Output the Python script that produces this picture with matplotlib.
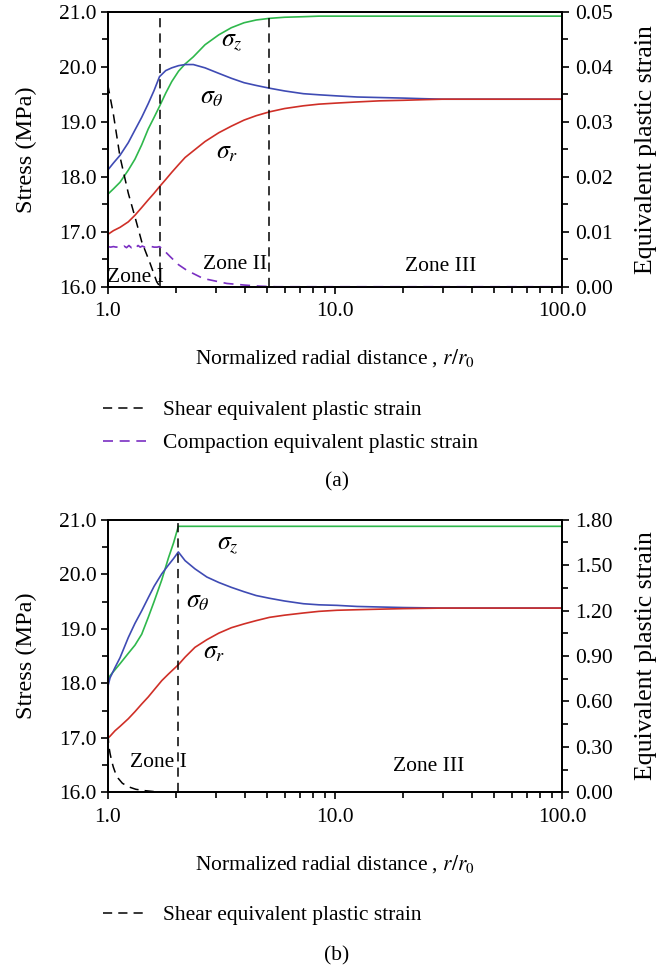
import matplotlib
matplotlib.use('Agg')
import matplotlib.pyplot as plt
from matplotlib.ticker import FixedLocator, MultipleLocator, FormatStrFormatter, NullFormatter, LogLocator

plt.rcParams['font.family'] = ['Liberation Serif', 'DejaVu Serif']
plt.rcParams['mathtext.fontset'] = 'stix'

# ---- panel (a) data ----
r_a = [1.0, 1.06, 1.133, 1.232, 1.318, 1.411, 1.508, 1.6, 1.69, 1.8, 1.913, 2.05, 2.19, 2.38,
       2.68, 3.08, 3.5, 3.98, 4.5, 5.15, 6.0, 7.26, 8.5, 10.2, 12.5, 15.7, 20, 24, 30, 40, 60, 100]
sig_theta_a = [18.12, 18.25, 18.39, 18.62, 18.85, 19.08, 19.33, 19.57, 19.82, 19.93, 19.98, 20.02, 20.04, 20.04,
               19.98, 19.88, 19.79, 19.71, 19.66, 19.61, 19.56, 19.51, 19.49, 19.47, 19.45, 19.44, 19.43, 19.42,
               19.41, 19.41, 19.41, 19.41]
sig_z_a = [17.68, 17.78, 17.90, 18.12, 18.32, 18.58, 18.87, 19.08, 19.28, 19.52, 19.73, 19.92, 20.05, 20.18,
           20.40, 20.58, 20.71, 20.80, 20.85, 20.88, 20.90, 20.91, 20.92, 20.92, 20.92, 20.92, 20.92, 20.92,
           20.92, 20.92, 20.92, 20.92]
sig_r_a = [16.95, 17.02, 17.08, 17.18, 17.30, 17.44, 17.58, 17.70, 17.82, 17.95, 18.08, 18.22, 18.35, 18.47,
           18.64, 18.80, 18.92, 19.03, 19.11, 19.18, 19.24, 19.29, 19.32, 19.34, 19.36, 19.38, 19.39, 19.40,
           19.41, 19.41, 19.41, 19.41]

r_shear_a = [1.0, 1.058, 1.133, 1.232, 1.318, 1.411, 1.535, 1.643, 1.70]
shear_a = [0.0368, 0.0315, 0.0236, 0.0170, 0.0127, 0.0082, 0.0043, 0.0009, 0.0]

r_comp_a = [1.0, 1.03, 1.06, 1.09, 1.12, 1.15, 1.18, 1.21, 1.24, 1.27, 1.30, 1.33, 1.36, 1.39, 1.42,
            1.45, 1.48, 1.52, 1.56, 1.60, 1.65, 1.69, 1.75, 1.88, 2.05, 2.226, 2.63, 3.34, 4.0, 4.67, 5.5, 100]
comp_a = [0.0073, 0.0072, 0.0073, 0.0072, 0.0073, 0.0072, 0.0074, 0.0071, 0.0075, 0.0071, 0.0074, 0.0071,
          0.0075, 0.0072, 0.0074, 0.0072, 0.0073, 0.0072, 0.0073, 0.0072, 0.0072, 0.0073, 0.0068, 0.0055,
          0.0040, 0.0030, 0.0015, 0.0006, 0.0003, 0.0001, 0.0, 0.0]

zones_a = [1.69, 5.15]

# ---- panel (b) data ----
r_b = [1.0, 1.024, 1.077, 1.133, 1.232, 1.318, 1.411, 1.508, 1.6, 1.73, 1.85, 1.95, 2.045, 2.19, 2.42,
       2.73, 3.08, 3.5, 3.98, 4.5, 5.15, 6.0, 7.26, 8.5, 10.2, 12.5, 15.7, 20, 30, 50, 100]
sig_theta_b = [17.93, 18.10, 18.29, 18.47, 18.84, 19.10, 19.33, 19.57, 19.78, 20.01, 20.17, 20.29, 20.41,
               20.25, 20.10, 19.95, 19.85, 19.76, 19.68, 19.61, 19.56, 19.51, 19.46, 19.44, 19.43, 19.41,
               19.40, 19.39, 19.38, 19.38, 19.38]
sig_z_b = [18.02, 18.14, 18.25, 18.36, 18.55, 18.70, 18.90, 19.21, 19.50, 19.90, 20.30, 20.58, 20.88,
           20.88, 20.88, 20.88, 20.88, 20.88, 20.88, 20.88, 20.88, 20.88, 20.88, 20.88, 20.88, 20.88,
           20.88, 20.88, 20.88, 20.88, 20.88]
sig_r_b = [16.99, 17.03, 17.13, 17.21, 17.35, 17.48, 17.62, 17.75, 17.88, 18.05, 18.17, 18.26, 18.34,
           18.48, 18.66, 18.80, 18.92, 19.02, 19.09, 19.15, 19.21, 19.25, 19.29, 19.32, 19.34, 19.35,
           19.36, 19.37, 19.38, 19.38, 19.38]

r_shear_b = [1.0, 1.002, 1.01, 1.024, 1.04, 1.058, 1.08, 1.113, 1.16, 1.232, 1.33, 1.459, 1.6, 1.8, 2.045]
shear_b = [1.80, 0.40, 0.31, 0.257, 0.21, 0.168, 0.13, 0.092, 0.06, 0.037, 0.02, 0.011, 0.005, 0.002, 0.0]

zones_b = [2.045]

GREEN = '#2fb84c'
BLUE = '#3f4bb4'
RED = '#cf2f27'
PURPLE = '#7a2fc2'
FS = 15.5
FS_L = 17.5
FS_R = 18.5

fig = plt.figure(figsize=(6.62, 9.71), dpi=100)


def setup(ax, ymax2, step2):
    ax.set_xscale('log')
    ax.set_xlim(1, 100)
    ax.set_ylim(16, 21)
    ax.xaxis.set_major_locator(FixedLocator([1, 10, 100]))
    ax.set_xticklabels(['1.0', '10.0', '100.0'])
    ax.xaxis.set_minor_locator(LogLocator(base=10, subs=range(2, 10)))
    ax.xaxis.set_minor_formatter(NullFormatter())
    ax.yaxis.set_major_locator(MultipleLocator(1.0))
    ax.yaxis.set_minor_locator(MultipleLocator(0.5))
    ax.yaxis.set_major_formatter(FormatStrFormatter('%.1f'))
    ax.tick_params(which='both', direction='out', labelsize=FS, width=1.2, top=False, right=False)
    ax.tick_params(which='major', length=5)
    ax.tick_params(which='minor', length=4)
    ax.tick_params(axis='x', pad=6)
    ax.tick_params(axis='y', pad=3)
    ax.set_ylabel('Stress (MPa)', fontsize=FS_L, labelpad=16)
    ax.set_xlabel('Normalized radial distance , $r/r_0$', fontsize=FS, labelpad=19)
    for s in ax.spines.values():
        s.set_linewidth(1.3)
    tw = ax.twinx()
    tw.set_ylim(0, ymax2)
    tw.yaxis.set_major_locator(MultipleLocator(step2))
    tw.yaxis.set_minor_locator(MultipleLocator(step2 / 2))
    tw.yaxis.set_major_formatter(FormatStrFormatter('%.2f'))
    tw.tick_params(which='both', direction='out', labelsize=FS, width=1.2, pad=4)
    tw.tick_params(which='major', length=5)
    tw.tick_params(which='minor', length=4)
    tw.set_ylabel('Equivalent plastic strain', fontsize=FS_R, labelpad=16)
    for s in tw.spines.values():
        s.set_linewidth(1.3)
    return tw


# ---- panel (a) ----
ax1 = fig.add_axes([0.1627, 0.7047, 0.6867, 0.2832])
tw1 = setup(ax1, 0.05, 0.01)
ax1.plot(r_a, sig_z_a, color=GREEN, lw=1.2)
ax1.plot(r_a, sig_theta_a, color=BLUE, lw=1.2)
ax1.plot(r_a, sig_r_a, color=RED, lw=1.2)
for z in zones_a:
    ax1.axvline(z, color='black', lw=1.1, ls=(0, (6, 4)))
h1, = tw1.plot(r_shear_a, shear_a, color='black', lw=1.1, ls=(0, (6, 4)))
h2, = tw1.plot(r_comp_a, comp_a, color=PURPLE, lw=1.2, ls=(0, (6, 4)))
ax1.text(3.52, 20.45, r'$\sigma_z$', fontsize=FS + 3, ha='center', va='center')
ax1.text(2.88, 19.43, r'$\sigma_{\theta}$', fontsize=FS + 3, ha='center', va='center')
ax1.text(3.35, 18.43, r'$\sigma_r$', fontsize=FS + 3, ha='center', va='center')
ax1.text(1.33, 16.0, 'Zone I', fontsize=FS, ha='center', va='bottom')
ax1.text(3.63, 16.40, 'Zone II', fontsize=FS, ha='center', va='center')
ax1.text(29.1, 16.37, 'Zone III', fontsize=FS, ha='center', va='center')
fig.legend([h1, h2], ['Shear equivalent plastic strain', 'Compaction equivalent plastic strain'],
           loc='upper left', bbox_to_anchor=(0.155, 1 - 400 / 971), frameon=False, fontsize=FS,
           handlelength=2.0, handletextpad=0.8, labelspacing=0.6, borderpad=0, borderaxespad=0)
fig.text(0.509, 1 - 482 / 971, '(a)', fontsize=FS, ha='center', va='center')

# ---- panel (b) ----
ax2 = fig.add_axes([0.1627, 0.1840, 0.6867, 0.2807])
tw2 = setup(ax2, 1.80, 0.30)
ax2.plot(r_b, sig_z_b, color=GREEN, lw=1.2)
ax2.plot(r_b, sig_theta_b, color=BLUE, lw=1.2)
ax2.plot(r_b, sig_r_b, color=RED, lw=1.2)
for z in zones_b:
    ax2.axvline(z, color='black', lw=1.1, ls=(0, (6, 4)))
h3, = tw2.plot(r_shear_b, shear_b, color='black', lw=1.1, ls=(0, (6, 4)))
ax2.text(3.36, 20.53, r'$\sigma_z$', fontsize=FS + 3, ha='center', va='center')
ax2.text(2.49, 19.49, r'$\sigma_{\theta}$', fontsize=FS + 3, ha='center', va='center')
ax2.text(2.95, 18.55, r'$\sigma_r$', fontsize=FS + 3, ha='center', va='center')
ax2.text(1.68, 16.54, 'Zone I', fontsize=FS, ha='center', va='center')
ax2.text(25.9, 16.48, 'Zone III', fontsize=FS, ha='center', va='center')
fig.legend([h3], ['Shear equivalent plastic strain'],
           loc='upper left', bbox_to_anchor=(0.155, 1 - 905 / 971), frameon=False, fontsize=FS,
           handlelength=2.0, handletextpad=0.8, borderpad=0, borderaxespad=0)
fig.text(0.509, 1 - 956 / 971, '(b)', fontsize=FS, ha='center', va='center')

fig.savefig('out.png', dpi=100)
